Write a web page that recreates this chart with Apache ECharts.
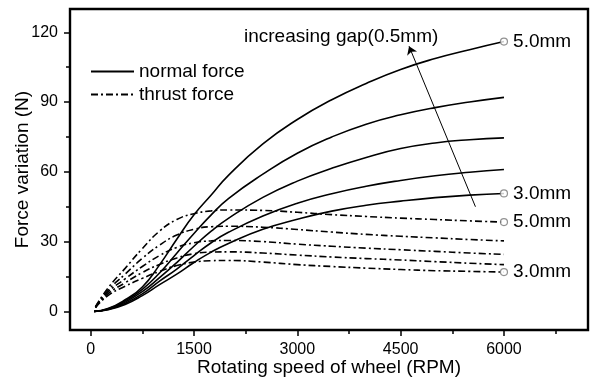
<!DOCTYPE html>
<html>
<head>
<meta charset="utf-8">
<script src="https://cdn.jsdelivr.net/npm/echarts@6/dist/echarts.min.js"></script>
<style>
html, body { margin: 0; padding: 0; background: #fff; }
#lineChart { width: 597px; height: 378px; }
</style>
</head>
<body>
<div id="lineChart"></div>
<script>
// rotating speed of wheel (RPM)
var rpmNormal = [50, 250, 500, 750, 1000, 1250, 1500, 1750, 2000, 2500, 3000, 3500, 4000, 4500, 5000, 5500, 6000];
var rpmThrust = [70, 250, 500, 750, 1000, 1250, 1500, 1750, 2000, 2500, 3000, 3500, 4000, 4500, 5000, 5500, 6000];

// normal force (N), gap 3.0 .. 5.0 mm
var normal30 = [0, 0.7, 3, 6.8, 11.5, 16, 21, 25.5, 29.2, 35.3, 39.6, 43.1, 45.6, 47.4, 48.9, 50, 50.7];
var normal35 = [0, 0.8, 3.5, 7.5, 13, 18.2, 24, 29.5, 34, 41, 46.5, 50.6, 53.8, 56.3, 58.3, 59.8, 61];
var normal40 = [0, 0.9, 4, 8.5, 14.5, 21, 28, 34.5, 40, 49, 56, 61.5, 66.2, 70, 72.4, 73.8, 74.6];
var normal45 = [0, 1, 4.5, 9.5, 16.5, 25, 33.5, 41.5, 48.5, 59, 68, 75, 80.5, 84.5, 87.6, 90, 92];
var normal50 = [0, 1.2, 5, 10.5, 20, 31, 41.5, 50, 58.5, 72, 82.5, 91, 98, 104, 108.7, 112.5, 116];

// thrust force (N), gap 3.0 .. 5.0 mm
var thrust30 = [1.6, 6.8, 10.8, 14.2, 17.2, 19.7, 21.2, 21.8, 21.9, 21.2, 20.1, 19.3, 18.6, 18, 17.5, 17.2, 16.9];
var thrust35 = [1.7, 7.5, 12.3, 16.7, 20.2, 23, 24.8, 25.5, 25.6, 25.1, 24.2, 23.4, 22.7, 22.1, 21.4, 20.7, 20.1];
var thrust40 = [1.8, 8.3, 14, 19.3, 24, 27.5, 29.5, 30.3, 30.5, 30, 28.9, 28, 27.2, 26.5, 25.8, 25.1, 24.5];
var thrust45 = [1.9, 9, 16, 22.8, 28.5, 32.8, 35.3, 36.4, 36.6, 36.2, 35.2, 34.1, 33.1, 32.3, 31.6, 30.9, 30.3];
var thrust50 = [2, 10, 18.5, 27, 34.5, 39.5, 42, 43.2, 43.6, 43.4, 42.6, 41.6, 40.8, 40.1, 39.5, 38.9, 38.4];

var xMajorTicks = [0, 1500, 3000, 4500, 6000];
var xMinorTicks = [750, 2250, 3750, 5250, 6750];
var yMajorTicks = [0, 30, 60, 90, 120];
var yMinorTicks = [15, 45, 75, 105];

// arrow "increasing gap" (RPM, N)
var arrowFrom = [5586, 45];
var arrowTo = [4622, 114];

var FONT = 'Liberation Sans, Arial, sans-serif';
var dashDot = [7, 3, 2, 3];

function lineSeries(name, xs, ys, dashed) {
    return {
        name: name,
        type: 'line',
        data: ys.map(function (v, i) { return [xs[i], v]; }),
        smooth: 0.5,
        symbol: 'none',
        silent: true,
        lineStyle: { color: '#000', width: 1.6, type: dashed ? dashDot : 'solid' },
        itemStyle: { color: '#000' }
    };
}

// open circles + gap labels at the end of outer curves
function endMarks(xs, list) {
    return {
        name: 'ends',
        type: 'scatter',
        silent: true,
        symbol: 'circle',
        symbolSize: 7,
        z: 5,
        itemStyle: { color: '#fff', borderColor: '#777', borderWidth: 1.2 },
        label: {
            show: true, position: 'right', distance: 5,
            formatter: function (p) { return p.data.text; },
            color: '#000', opacity: 1, textBorderWidth: 0,
            fontSize: 19, fontFamily: FONT
        },
        data: list.map(function (it) {
            return { value: [xs[xs.length - 1], it[0][it[0].length - 1]], text: it[1] };
        })
    };
}

var series = [
    lineSeries('normal force', rpmNormal, normal50, false),
    lineSeries('normal force', rpmNormal, normal45, false),
    lineSeries('normal force', rpmNormal, normal40, false),
    lineSeries('normal force', rpmNormal, normal35, false),
    lineSeries('normal force', rpmNormal, normal30, false),
    lineSeries('thrust force', rpmThrust, thrust50, true),
    lineSeries('thrust force', rpmThrust, thrust45, true),
    lineSeries('thrust force', rpmThrust, thrust40, true),
    lineSeries('thrust force', rpmThrust, thrust35, true),
    lineSeries('thrust force', rpmThrust, thrust30, true),
    endMarks(rpmNormal, [[normal50, '5.0mm'], [normal30, '3.0mm'], [thrust50, '5.0mm'], [thrust30, '3.0mm']])
];

series[0].markLine = {
    silent: true,
    symbol: ['none', 'arrow'],
    symbolSize: 8,
    label: { show: false },
    lineStyle: { color: '#000', width: 1, type: 'solid' },
    data: [[{ coord: arrowFrom }, { coord: arrowTo }]]
};

var axisFont = { fontSize: 16, color: '#000', fontFamily: FONT };
var nameFont = { fontSize: 19, color: '#000', fontFamily: FONT };
var tickLine = { color: '#000', width: 1.5 };
var X_MIN = -300, X_MAX = 7220, Y_MIN = -8, Y_MAX = 130;

var options = {
    backgroundColor: '#fff',
    animation: false,
    textStyle: { fontFamily: FONT },
    grid: {
        left: 70, right: 9, top: 9, bottom: 48,
        outerBoundsMode: 'none',
        containLabel: false,
        show: true, borderColor: '#000', borderWidth: 2.4, backgroundColor: 'transparent'
    },
    legend: {
        orient: 'vertical',
        left: 85, top: 57,
        itemWidth: 43, itemHeight: 12, itemGap: 4,
        selectedMode: false,
        itemStyle: { opacity: 0 },
        data: ['normal force', 'thrust force'],
        textStyle: { fontSize: 19, color: '#000', fontFamily: FONT }
    },
    graphic: [{
        type: 'text',
        left: 244, top: 27,
        silent: true,
        style: { text: 'increasing gap(0.5mm)', fontSize: 19, fontFamily: FONT, fill: '#000' }
    }],
    xAxis: [
        {
            type: 'value', min: X_MIN, max: X_MAX, position: 'bottom',
            name: 'Rotating speed of wheel (RPM)',
            nameLocation: 'middle', nameGap: 28, nameMoveOverlap: false,
            nameTextStyle: nameFont,
            axisLine: { show: false, onZero: false },
            axisTick: { show: true, inside: false, length: 6, customValues: xMajorTicks, lineStyle: tickLine },
            axisLabel: Object.assign({ customValues: xMajorTicks, margin: 12, formatter: function (v) { return String(v); } }, axisFont),
            splitLine: { show: false }
        },
        {
            type: 'value', min: X_MIN, max: X_MAX, position: 'bottom',
            axisLine: { show: false, onZero: false },
            axisTick: { show: true, inside: false, length: 4, customValues: xMinorTicks, lineStyle: tickLine },
            axisLabel: { show: false },
            splitLine: { show: false }
        }
    ],
    yAxis: [
        {
            type: 'value', min: Y_MIN, max: Y_MAX, position: 'left',
            name: 'Force variation (N)',
            nameLocation: 'middle', nameGap: 38, nameMoveOverlap: false,
            nameTextStyle: nameFont,
            axisLine: { show: false, onZero: false },
            axisTick: { show: true, inside: false, length: 6, customValues: yMajorTicks, lineStyle: tickLine },
            axisLabel: Object.assign({ customValues: yMajorTicks, margin: 12, formatter: function (v) { return String(v); } }, axisFont),
            splitLine: { show: false }
        },
        {
            type: 'value', min: Y_MIN, max: Y_MAX, position: 'left',
            axisLine: { show: false, onZero: false },
            axisTick: { show: true, inside: false, length: 4, customValues: yMinorTicks, lineStyle: tickLine },
            axisLabel: { show: false },
            splitLine: { show: false }
        }
    ],
    series: series
};

var chart = echarts.init(document.getElementById('lineChart'), null, { renderer: 'canvas' });
chart.setOption(options);
</script>
</body>
</html>
